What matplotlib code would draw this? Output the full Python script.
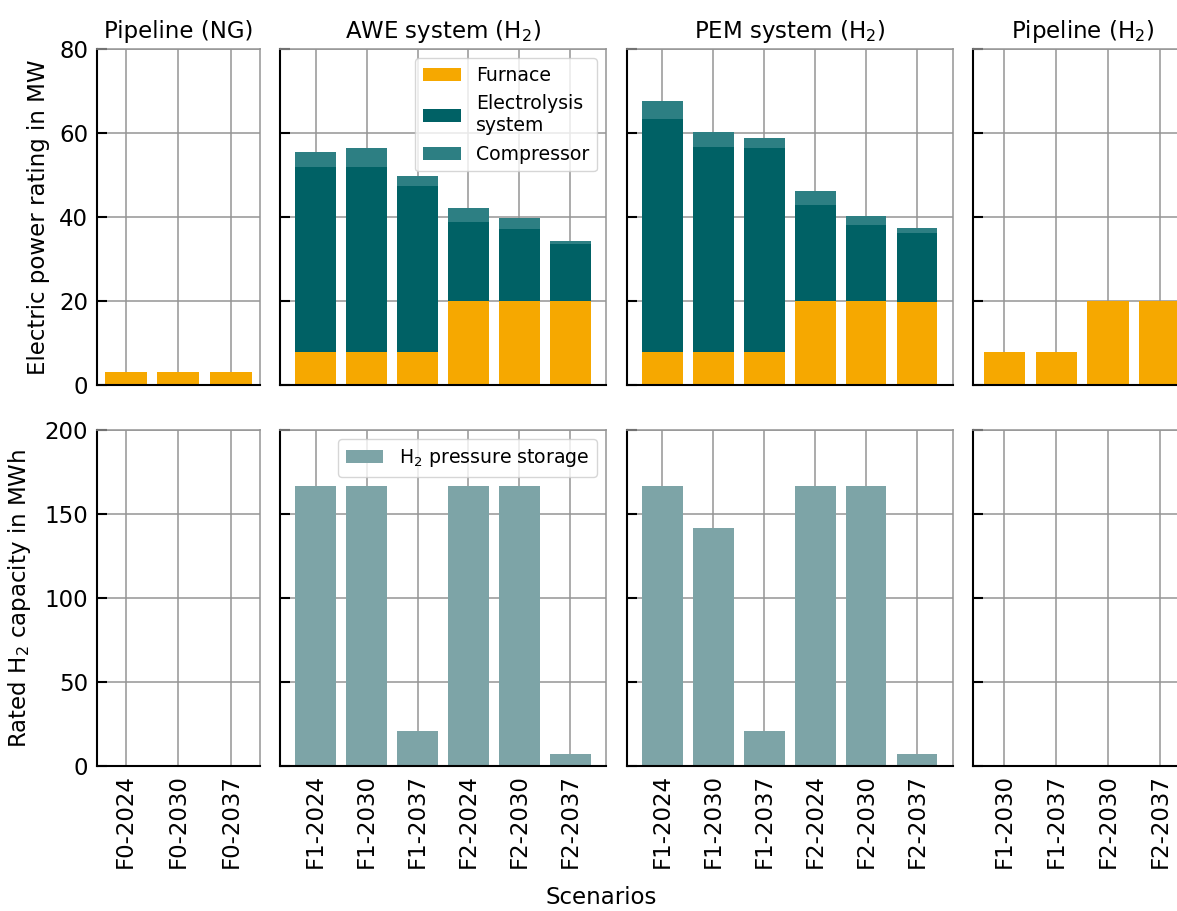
import matplotlib
matplotlib.use("Agg")
import matplotlib.pyplot as plt
import numpy as np

# ---------------- data ----------------
ng_labels = ['F0-2024', 'F0-2030', 'F0-2037']
ng_furnace = [3.1, 3.1, 3.1]
ng_storage = [0, 0, 0]

h2_labels = ['F1-2024', 'F1-2030', 'F1-2037', 'F2-2024', 'F2-2030', 'F2-2037']
awe_furnace = [7.8, 7.8, 7.8, 20.0, 20.0, 20.0]
awe_electrolysis = [44.0, 44.2, 39.7, 18.8, 17.1, 13.6]
awe_compressor = [3.7, 4.5, 2.3, 3.3, 2.6, 0.8]
awe_storage = [166.7, 166.7, 20.8, 166.7, 166.7, 7.1]

pem_furnace = [7.8, 7.8, 7.8, 20.0, 20.0, 19.7]
pem_electrolysis = [55.5, 48.8, 48.6, 22.8, 18.0, 16.6]
pem_compressor = [4.3, 3.6, 2.4, 3.3, 2.2, 1.2]
pem_storage = [166.7, 141.7, 20.8, 166.7, 166.7, 7.1]

pipe_labels = ['F1-2030', 'F1-2037', 'F2-2030', 'F2-2037']
pipe_furnace = [7.9, 7.9, 20.0, 20.0]
pipe_storage = [0, 0, 0, 0]

titles = ['Pipeline (NG)', 'AWE system (H$_2$)', 'PEM system (H$_2$)', 'Pipeline (H$_2$)']

# ---------------- style ----------------
c_furnace = '#F6A800'
c_elec = '#006165'
c_comp = '#2D7F83'
c_store = '#7DA4A7'
grid_c = '#959595'

plt.rcParams['font.family'] = ['DejaVu Sans']
plt.rcParams['font.size'] = 16

W, H = 1177, 911
fig = plt.figure(figsize=(W / 100, H / 100), dpi=100)

cols_px = [(96.7, 163.0), (280.0, 326.0), (626.7, 326.0), (973.3, 218.0)]
rows_px = [(49.0, 336.0), (430.0, 336.0)]
xlims = [(-0.55, 2.55), (-0.7, 5.7), (-0.7, 5.7), (-0.6, 3.6)]

axes = [[None] * 4 for _ in range(2)]
for r, (top, h) in enumerate(rows_px):
    for c, (left, w) in enumerate(cols_px):
        ax = fig.add_axes([left / W, 1 - (top + h) / H, w / W, h / H])
        axes[r][c] = ax


def style(ax, r, c, labels):
    ax.set_axisbelow(True)
    ax.grid(True, color=grid_c, linewidth=1.3, alpha=0.85)
    for s in ['left', 'bottom']:
        ax.spines[s].set_color('black')
        ax.spines[s].set_linewidth(1.5)
    for s in ['top', 'right']:
        ax.spines[s].set_color(grid_c)
        ax.spines[s].set_linewidth(1.3)
        ax.spines[s].set_alpha(0.85)
    ax.set_xlim(*xlims[c])
    x = np.arange(len(labels))
    ax.set_xticks(x)
    if r == 1:
        ax.set_xticklabels(labels, rotation=90)
    else:
        ax.set_xticklabels([])
    if r == 0:
        ax.set_ylim(0, 80)
        ax.set_yticks([0, 20, 40, 60, 80])
    else:
        ax.set_ylim(0, 200)
        ax.set_yticks([0, 50, 100, 150, 200])
    ax.tick_params(axis='both', direction='in', length=7, width=1.5, pad=6,
                   color='black', labelsize=16.5)
    ax.tick_params(axis='x', length=0)
    if c != 0:
        ax.tick_params(labelleft=False)


# Row 0: electric power rating
ax = axes[0][0]
x = np.arange(len(ng_labels))
ax.bar(x, ng_furnace, width=0.8, color=c_furnace)
style(ax, 0, 0, ng_labels)

for c, (fur, ele, com) in zip([1, 2], [(awe_furnace, awe_electrolysis, awe_compressor),
                                      (pem_furnace, pem_electrolysis, pem_compressor)]):
    ax = axes[0][c]
    x = np.arange(len(h2_labels))
    fur = np.array(fur); ele = np.array(ele); com = np.array(com)
    ax.bar(x, fur, width=0.8, color=c_furnace, label='Furnace')
    ax.bar(x, ele, width=0.8, bottom=fur, color=c_elec, label='Electrolysis\nsystem')
    ax.bar(x, com, width=0.8, bottom=fur + ele, color=c_comp, label='Compressor')
    style(ax, 0, c, h2_labels)

ax = axes[0][3]
x = np.arange(len(pipe_labels))
ax.bar(x, pipe_furnace, width=0.8, color=c_furnace)
style(ax, 0, 3, pipe_labels)

axes[0][1].legend(loc='upper right', fontsize=13.6)

# Row 1: storage capacity
ax = axes[1][0]
ax.bar(np.arange(len(ng_labels)), ng_storage, width=0.8, color=c_store)
style(ax, 1, 0, ng_labels)

for c, st in zip([1, 2], [awe_storage, pem_storage]):
    ax = axes[1][c]
    ax.bar(np.arange(len(h2_labels)), st, width=0.8, color=c_store,
           label='H$_2$ pressure storage')
    style(ax, 1, c, h2_labels)

ax = axes[1][3]
ax.bar(np.arange(len(pipe_labels)), pipe_storage, width=0.8, color=c_store)
style(ax, 1, 3, pipe_labels)

axes[1][1].legend(loc='upper right', fontsize=13.6)

for c in range(4):
    axes[0][c].set_title(titles[c], fontsize=16.5, pad=8)

axes[0][0].set_ylabel('Electric power rating in MW', fontsize=16.5)
axes[0][0].yaxis.set_label_coords((50 - 96.7) / 163.0, 0.5)
axes[1][0].set_ylabel('Rated H$_2$ capacity in MWh', fontsize=16.5)
axes[1][0].yaxis.set_label_coords((33 - 96.7) / 163.0, 0.5)

fig.text(601 / W, 1 - 898 / H, 'Scenarios', ha='center', va='center', fontsize=16.5)

fig.savefig('out.png', dpi=100)
